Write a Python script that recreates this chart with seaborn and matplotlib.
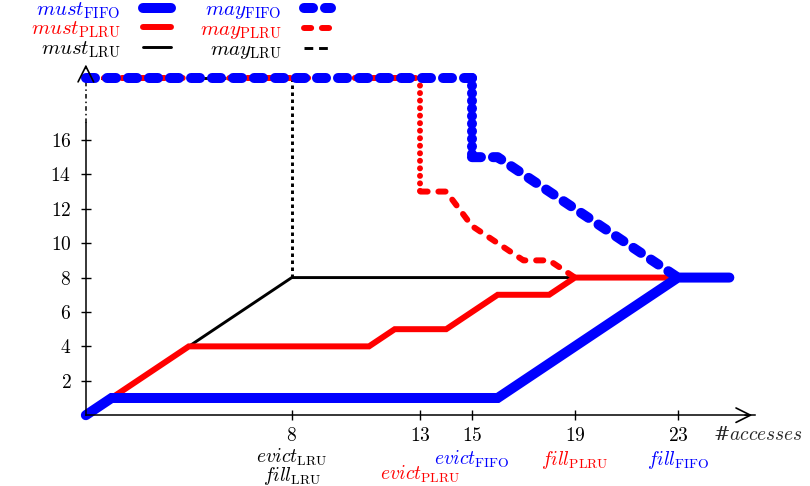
import matplotlib
matplotlib.use("Agg")
import matplotlib.pyplot as plt
import seaborn as sns
from matplotlib.lines import Line2D

# --- DATA ---
# "unbounded" value of the may analyses, drawn above the axis break
INF = 19.6

must_fifo_x = [0, 1, 16, 23, 25]
must_fifo_y = [0, 1, 1, 8, 8]
must_plru_x = [0, 1, 4, 11, 12, 14, 16, 18, 19, 23]
must_plru_y = [0, 1, 4, 4, 5, 5, 7, 7, 8, 8]
must_lru_x = [0, 8, 23]
must_lru_y = [0, 8, 8]

may_fifo_x = [0, 15, 15, 16, 23]
may_fifo_y = [INF, INF, 15, 15, 8]
may_plru_x = [0, 13, 13, 14, 15, 16, 17, 18, 19]
may_plru_y = [INF, INF, 13, 13, 11, 10, 9, 9, 8]
may_lru_x = [0, 8, 8]
may_lru_y = [INF, INF, 8]

x_ticks = [8, 13, 15, 19, 23]
y_ticks = [2, 4, 6, 8, 10, 12, 14, 16]

event_labels = [r'$evict_{\mathrm{LRU}}$', r'$fill_{\mathrm{LRU}}$',
                r'$evict_{\mathrm{PLRU}}$', r'$evict_{\mathrm{FIFO}}$',
                r'$fill_{\mathrm{PLRU}}$', r'$fill_{\mathrm{FIFO}}$']
event_x = [8, 8, 13, 15, 19, 23]

# --- STYLE ---
BLUE, RED, BLACK = '#0000ff', '#ff0000', '#000000'
LW = {'FIFO': 7.2, 'PLRU': 4.3, 'LRU': 2.1}
EVENT_DY = [30.5, 44, 42.5, 31.5, 32.5, 32.5]  # points below the x axis
EVENT_COLOR = [BLACK, BLACK, RED, BLUE, RED, BLUE]
FS_TEXT = 14

sns.set_theme(style="white")
plt.rcParams['mathtext.fontset'] = 'cm'
plt.rcParams['font.family'] = ['DejaVu Serif']


def draw_must(ax, x, y, color, lw):
    sns.lineplot(x=x, y=y, estimator=None, sort=False, color=color,
                 linewidth=lw, solid_capstyle='round', solid_joinstyle='miter',
                 ax=ax, clip_on=False)


def draw_may(ax, x, y, color, lw, dash, dot):
    # top part and tail dashed, the drop from "unbounded" dotted
    for a, b, ls in [(0, 2, dash), (1, 3, dot), (2, len(x), dash)]:
        if b - a < 2:
            continue
        sns.lineplot(x=x[a:b], y=y[a:b], estimator=None, sort=False,
                     color=color, linewidth=lw, linestyle=ls,
                     dash_capstyle='round' if color != BLACK else 'butt',
                     ax=ax, clip_on=False)


fig = plt.figure(figsize=(8.1, 4.86), dpi=100)
ax = fig.add_axes([0.0901, 0.128, 0.858, 0.761])

fifo_dash = (0, (0.9, 1.2))
fifo_dot = (0, (0.01, 0.75))
plru_dash = (0, (1.2, 1.8))
plru_dot = (0, (0.01, 1.25))
lru_dash = (0, (3, 2))
lru_dot = (0, (1.2, 1.2))

draw_may(ax, may_lru_x, may_lru_y, BLACK, LW['LRU'], lru_dash, lru_dot)
draw_must(ax, must_lru_x, must_lru_y, BLACK, LW['LRU'])
draw_must(ax, must_plru_x, must_plru_y, RED, LW['PLRU'])
draw_may(ax, may_plru_x, may_plru_y, RED, LW['PLRU'], plru_dash, plru_dot)
draw_must(ax, must_fifo_x, must_fifo_y, BLUE, LW['FIFO'])
draw_may(ax, may_fifo_x, may_fifo_y, BLUE, LW['FIFO'], fifo_dash, fifo_dot)

ax.set_xlim(-0.5, 26.5)
ax.set_ylim(-0.5, 21)
for s in ['top', 'right']:
    ax.spines[s].set_visible(False)
ax.spines['left'].set_position(('data', 0))
ax.spines['bottom'].set_position(('data', 0))
ax.spines['left'].set_bounds(0, 17)
ax.spines['bottom'].set_bounds(0, 26)
for s in ['left', 'bottom']:
    ax.spines[s].set_linewidth(1.1)
    ax.spines[s].set_color('black')

# axis break above 17 and arrow heads
ax.plot([0, 0], [17, INF], color='black', lw=1.1, ls=(0, (3, 2, 1, 2)), zorder=1)
ax.annotate('', xy=(0, 20.55), xytext=(0, 20.0),
            arrowprops=dict(arrowstyle='->', lw=1.2, color='black',
                            mutation_scale=28))
ax.annotate('', xy=(26, 0), xytext=(25.5, 0),
            arrowprops=dict(arrowstyle='->', lw=1.2, color='black',
                            mutation_scale=26))

ax.set_xticks(x_ticks, [rf'${v}$' for v in x_ticks])
ax.set_yticks(y_ticks, [rf'${v}$' for v in y_ticks])
ax.tick_params(direction='inout', length=7, width=1, colors='black',
               labelsize=14, left=True, bottom=True)
ax.tick_params(axis='x', pad=5)
ax.tick_params(axis='y', pad=7)

for lab, xv, dy, c in zip(event_labels, event_x, EVENT_DY, EVENT_COLOR):
    ax.annotate(lab, xy=(xv, 0), xytext=(0, -dy), textcoords='offset points',
                ha='center', va='center', color=c, fontsize=FS_TEXT)
ax.annotate(r'#$accesses$', xy=(24.35, 0), xytext=(0, -14),
            textcoords='offset points', ha='left', va='center', fontsize=14)

handles = [
    Line2D([], [], color=BLUE, lw=LW['FIFO'], solid_capstyle='round'),
    Line2D([], [], color=RED, lw=LW['PLRU'], solid_capstyle='round'),
    Line2D([], [], color=BLACK, lw=LW['LRU']),
    Line2D([], [], color=BLUE, lw=LW['FIFO'], ls=fifo_dash, dash_capstyle='round'),
    Line2D([], [], color=RED, lw=LW['PLRU'], ls=plru_dash, dash_capstyle='round'),
    Line2D([], [], color=BLACK, lw=LW['LRU'], ls=lru_dash),
]
labels = [r'$must_{\mathrm{FIFO}}$', r'$must_{\mathrm{PLRU}}$', r'$must_{\mathrm{LRU}}$',
          r'$may_{\mathrm{FIFO}}$', r'$may_{\mathrm{PLRU}}$', r'$may_{\mathrm{LRU}}$']
leg = fig.legend(handles, labels, ncol=2, markerfirst=False, loc='upper left',
                 bbox_to_anchor=(0.038, 1.0), frameon=False, fontsize=15,
                 handlelength=1.3, handletextpad=1.1, columnspacing=1.4,
                 labelspacing=-0.05, borderpad=0.0, borderaxespad=0.0,
                 labelcolor='linecolor')

fig.savefig("out.png", dpi=100)
